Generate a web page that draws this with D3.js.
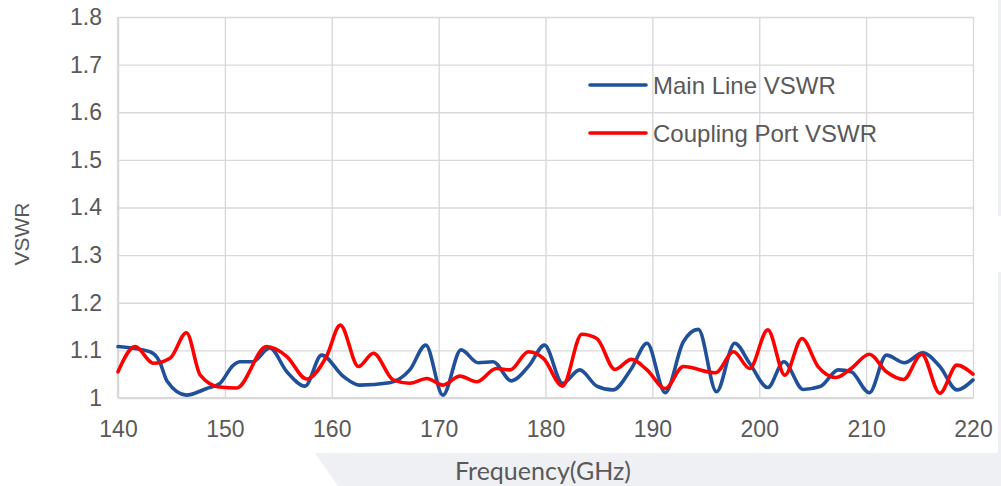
<!DOCTYPE html>
<html>
<head>
<meta charset="utf-8">
<script src="https://cdn.jsdelivr.net/npm/d3@7"></script>
<style>
  html, body { margin: 0; padding: 0; background: #fff; }
  svg { display: block; }
</style>
</head>
<body>
<svg></svg>
<script>
// values
let seriesNames = ['Main Line VSWR', 'Coupling Port VSWR'];
let seriesColors = ['#21509a', '#ff0000'];

let xTicks = [140, 150, 160, 170, 180, 190, 200, 210, 220];
let yTicks = [1, 1.1, 1.2, 1.3, 1.4, 1.5, 1.6, 1.7, 1.8];
let yTickLabels = ['1', '1.1', '1.2', '1.3', '1.4', '1.5', '1.6', '1.7', '1.8'];

let mainFreq = [140, 143, 143.9, 144.6, 146.4, 148.3, 149.5, 150.8, 151.4, 152.6,
    154.2, 155.8, 157.5, 159.05, 161.1, 162.6, 165.4, 167.3, 168.8, 170.4,
    172.1, 173.7, 175.1, 176.8, 178.5, 179.9, 181.6, 183.2, 184.8, 186.3,
    188.05, 189.5, 191.2, 192.9, 194.3, 196, 197.7, 199.1, 200.8, 202.3,
    204.1, 205.7, 207.4, 208.6, 210.3, 211.9, 213.6, 215.3, 216.9, 218.5, 220];
let mainVswr = [1.108, 1.097, 1.076, 1.035, 1.006, 1.02, 1.03, 1.069, 1.076, 1.076,
    1.105, 1.055, 1.025, 1.09, 1.045, 1.027, 1.032, 1.059, 1.111, 1.006,
    1.101, 1.074, 1.076, 1.036, 1.069, 1.111, 1.031, 1.059, 1.025, 1.017,
    1.062, 1.115, 1.011, 1.118, 1.144, 1.013, 1.115, 1.073, 1.022, 1.076,
    1.018, 1.024, 1.059, 1.055, 1.011, 1.09, 1.074, 1.095, 1.066, 1.017, 1.038];

let coupFreq = [140, 141.6, 143.3, 144.9, 146.4, 147.7, 149.5, 151.1, 153.9, 155.8,
    157.65, 159.5, 160.8, 162.5, 163.9, 165.75, 167.3, 168.9, 170.4, 172,
    173.55, 175.4, 176.7, 178.4, 179.8, 181.6, 183.4, 184.8, 186.5, 188.05,
    189.5, 191.2, 192.9, 195.9, 197.6, 199.1, 200.8, 202.4, 204, 205.5,
    207.2, 208.6, 210.3, 211.9, 213.5, 215.2, 216.9, 218.5, 220];
let coupVswr = [1.055, 1.108, 1.073, 1.084, 1.137, 1.048, 1.023, 1.021, 1.108, 1.087,
    1.04, 1.087, 1.153, 1.066, 1.094, 1.038, 1.031, 1.041, 1.027, 1.046,
    1.034, 1.062, 1.059, 1.097, 1.083, 1.025, 1.134, 1.125, 1.06, 1.081,
    1.059, 1.02, 1.066, 1.053, 1.097, 1.062, 1.143, 1.048, 1.125, 1.066,
    1.043, 1.062, 1.092, 1.055, 1.039, 1.092, 1.01, 1.069, 1.05];

let width = 1001;
let height = 486;
let plotLeft = 118, plotRight = 973, plotTop = 17, plotBottom = 398;
let textColor = '#595959';
let gridColor = '#d9d9d9';

let series = [
    mainFreq.map((f, i) => ({ f: f, v: mainVswr[i] })),
    coupFreq.map((f, i) => ({ f: f, v: coupVswr[i] }))
];

let xScale = d3.scaleLinear().domain([140, 220]).range([plotLeft, plotRight]);
let yScale = d3.scaleLinear().domain([1, 1.8]).range([plotBottom, plotTop]);

let svg = d3.select('svg')
    .attr('width', width)
    .attr('height', height);

// page background pieces
svg.append('path')
    .attr('d', `M315,453 L${width},453 L${width},${height} L338,${height} Z`)
    .attr('fill', '#eff0f4');
svg.append('rect')
    .attr('x', 998).attr('y', 0).attr('width', 3).attr('height', 216)
    .attr('fill', '#eff0f4');
svg.append('rect')
    .attr('x', 998).attr('y', 272).attr('width', 3).attr('height', 181)
    .attr('fill', '#eff0f4');

// gridlines
let xGrid = d3.axisBottom(xScale)
    .tickValues(xTicks)
    .tickSize(-(plotBottom - plotTop))
    .tickFormat('')
    .tickSizeOuter(0);
let yGrid = d3.axisLeft(yScale)
    .tickValues(yTicks)
    .tickSize(-(plotRight - plotLeft))
    .tickFormat('')
    .tickSizeOuter(0);

svg.append('g')
    .attr('transform', `translate(0, ${plotBottom})`)
    .call(xGrid)
    .call(g => g.select('.domain').remove())
    .call(g => g.selectAll('line').attr('stroke', gridColor).attr('stroke-width', 1.4));

svg.append('g')
    .attr('transform', `translate(${plotLeft}, 0)`)
    .call(yGrid)
    .call(g => g.select('.domain').remove())
    .call(g => g.selectAll('line').attr('stroke', gridColor).attr('stroke-width', 1.4));

// axis lines
svg.append('line')
    .attr('x1', plotLeft).attr('x2', plotRight).attr('y1', plotBottom).attr('y2', plotBottom)
    .attr('stroke', gridColor).attr('stroke-width', 2.2);
svg.append('line')
    .attr('x1', plotLeft).attr('x2', plotLeft).attr('y1', plotTop).attr('y2', plotBottom)
    .attr('stroke', gridColor).attr('stroke-width', 2.2);

// tick labels
let xAxis = d3.axisBottom(xScale)
    .tickValues(xTicks)
    .tickSize(0)
    .tickPadding(0)
    .tickSizeOuter(0);
svg.append('g')
    .attr('transform', `translate(0, ${plotBottom})`)
    .call(xAxis)
    .call(g => g.select('.domain').remove())
    .call(g => g.selectAll('text')
        .attr('y', 39)
        .attr('dy', 0)
        .attr('fill', textColor)
        .style('font-family', 'Liberation Sans, Arial, sans-serif')
        .style('font-size', '23px'));

let yAxis = d3.axisLeft(yScale)
    .tickValues(yTicks)
    .tickFormat((d, i) => yTickLabels[i])
    .tickSize(0)
    .tickPadding(16)
    .tickSizeOuter(0);
svg.append('g')
    .attr('transform', `translate(${plotLeft}, 0)`)
    .call(yAxis)
    .call(g => g.select('.domain').remove())
    .call(g => g.selectAll('text')
        .attr('fill', textColor)
        .style('font-family', 'Liberation Sans, Arial, sans-serif')
        .style('font-size', '23px'));

// lines
let line = d3.line()
    .x(d => xScale(d.f))
    .y(d => yScale(d.v))
    .curve(d3.curveMonotoneX);

svg.selectAll('path.series')
    .data(series)
    .enter()
    .append('path')
        .attr('class', 'series')
        .attr('d', line)
        .attr('fill', 'none')
        .attr('stroke', (d, i) => seriesColors[i])
        .attr('stroke-width', 3.6)
        .attr('stroke-linejoin', 'round')
        .attr('stroke-linecap', 'round');

// legend
let legend = svg.selectAll('g.legend')
    .data(seriesNames)
    .enter()
    .append('g')
        .attr('class', 'legend')
        .attr('transform', (d, i) => `translate(590, ${85 + i * 48})`);

legend.append('line')
    .attr('x1', 0).attr('x2', 56)
    .attr('stroke', (d, i) => seriesColors[i])
    .attr('stroke-width', 3.6)
    .attr('stroke-linecap', 'round');

legend.append('text')
    .attr('x', 63)
    .attr('y', 9)
    .attr('fill', textColor)
    .style('font-family', 'Liberation Sans, Arial, sans-serif')
    .style('font-size', '24px')
    .text(d => d);

// axis titles
svg.append('text')
    .attr('x', 543)
    .attr('y', 480)
    .style('text-anchor', 'middle')
    .attr('fill', textColor)
    .style('font-family', 'Lato, sans-serif')
    .style('font-size', '25px')
    .text('Frequency(GHz)');

svg.append('text')
    .attr('transform', 'rotate(-90)')
    .attr('x', -234)
    .attr('y', 29)
    .style('text-anchor', 'middle')
    .attr('fill', textColor)
    .style('font-family', 'Liberation Sans, Arial, sans-serif')
    .style('font-size', '21px')
    .text('VSWR');
</script>
</body>
</html>
